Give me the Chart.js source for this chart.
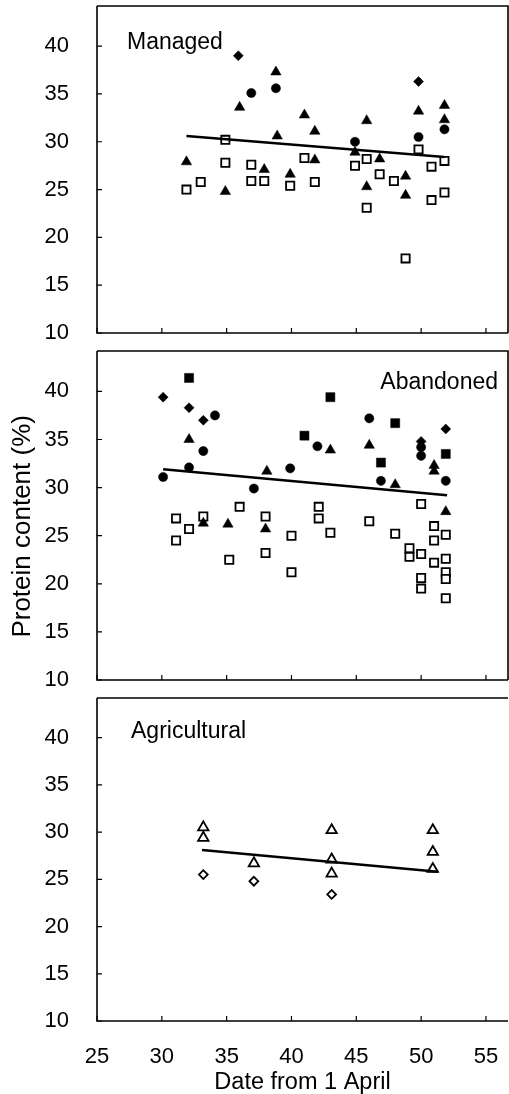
<!DOCTYPE html>
<html>
<head>
<meta charset="utf-8">
<script src="https://cdn.jsdelivr.net/npm/chart.js@4.4.1/dist/chart.umd.min.js"></script>
<style>
  html, body { margin: 0; padding: 0; background: #fff; overflow: hidden; }
  .panel { position: absolute; left: 0; width: 509px; }
</style>
</head>
<body>
<div class="panel" style="top:0;height:345px"><canvas id="managed"></canvas></div>
<div class="panel" style="top:345px;height:345px"><canvas id="abandoned"></canvas></div>
<div class="panel" style="top:690px;height:414px"><canvas id="agricultural"></canvas></div>
<script>
// Axis settings shared by the three panels
const xTicks = [25, 30, 35, 40, 45, 50, 55];
const yTicks = [10, 15, 20, 25, 30, 35, 40];

// Managed sites: [day, protein %]
const managedDiamond = [[35.9, 39.0], [49.8, 36.3]];
const managedCircle = [[36.9, 35.1], [38.8, 35.6], [44.9, 30.0], [49.8, 30.5], [51.8, 31.3]];
const managedTriangle = [
  [38.8, 37.3], [36.0, 33.6], [41.0, 32.8], [38.9, 30.6], [31.9, 27.9], [37.9, 27.1],
  [39.9, 26.6], [34.9, 24.8], [41.8, 31.1], [41.8, 28.1], [45.8, 32.2], [44.9, 28.9],
  [46.8, 28.2], [45.8, 25.3], [48.8, 26.4], [48.8, 24.4], [49.8, 33.2], [51.8, 33.8],
  [51.8, 32.3]
];
const managedSquare = [
  [34.9, 30.2], [34.9, 27.8], [36.9, 27.6], [31.9, 25.0], [33.0, 25.8], [36.9, 25.9],
  [37.9, 25.9], [39.9, 25.4], [41.0, 28.3], [41.8, 25.8], [44.9, 27.5], [45.8, 28.2],
  [46.8, 26.6], [45.8, 23.1], [47.9, 25.9], [48.8, 17.8], [49.8, 29.2], [50.8, 27.4],
  [50.8, 23.9], [51.8, 28.0], [51.8, 24.7]
];
const managedTrendX = [31.9, 51.8];
const managedTrendY = [30.6, 28.4];

// Abandoned sites
const abandonedFilledSquare = [[32.1, 41.4], [43.0, 39.4], [41.0, 35.4], [48.0, 36.7], [46.9, 32.6], [51.9, 33.5]];
const abandonedDiamond = [[30.1, 39.4], [32.1, 38.3], [33.2, 37.0], [51.9, 36.1], [50.0, 34.8]];
const abandonedCircle = [
  [34.1, 37.5], [33.2, 33.8], [32.1, 32.1], [30.1, 31.1], [39.9, 32.0], [37.1, 29.9],
  [42.0, 34.3], [46.0, 37.2], [46.9, 30.7], [50.0, 34.2], [50.0, 33.3], [51.9, 30.7]
];
const abandonedTriangle = [
  [32.1, 35.0], [38.1, 31.7], [35.1, 26.2], [38.0, 25.7], [33.2, 26.3], [43.0, 33.9],
  [46.0, 34.4], [48.0, 30.3], [51.0, 32.3], [51.0, 31.7], [51.9, 27.5]
];
const abandonedSquare = [
  [36.0, 28.0], [31.1, 26.8], [33.2, 27.0], [32.1, 25.7], [31.1, 24.5], [38.0, 27.0],
  [35.2, 22.5], [38.0, 23.2], [40.0, 25.0], [40.0, 21.2], [42.1, 28.0], [42.1, 26.8],
  [43.0, 25.3], [46.0, 26.5], [48.0, 25.2], [50.0, 28.3], [49.1, 23.7], [49.1, 22.8],
  [50.0, 23.1], [50.0, 20.6], [50.0, 19.5], [51.0, 26.0], [51.0, 24.5], [51.0, 22.2],
  [51.9, 25.1], [51.9, 22.6], [51.9, 21.2], [51.9, 20.5], [51.9, 18.5]
];
const abandonedTrendX = [30.1, 52.0];
const abandonedTrendY = [31.9, 29.2];

// Agricultural sites
const agriTriangle = [
  [33.2, 30.5], [33.2, 29.4], [37.1, 26.7], [43.1, 30.2], [43.1, 27.1], [43.1, 25.6],
  [50.9, 30.2], [50.9, 27.9], [50.9, 26.1]
];
const agriDiamond = [[33.2, 25.5], [37.1, 24.8], [43.1, 23.4]];
const agriTrendX = [33.1, 51.3];
const agriTrendY = [28.1, 25.8];

const FONT = "'Liberation Sans', Arial, sans-serif";

const toPoints = (pairs) => pairs.map(([x, y]) => ({ x, y }));
const trendPoints = (xs, ys) => xs.map((x, i) => ({ x, y: ys[i] }));

function marker(data, style, filled, radius) {
  return {
    type: 'scatter',
    data: toPoints(data),
    pointStyle: style,
    pointRadius: radius,
    pointHoverRadius: radius,
    backgroundColor: filled ? '#000' : '#fff',
    borderColor: '#000',
    borderWidth: filled ? 0.5 : 1.8
  };
}

function trend(xs, ys) {
  return {
    type: 'line',
    data: trendPoints(xs, ys),
    borderColor: '#000',
    borderWidth: 2.6,
    pointRadius: 0,
    fill: false
  };
}

// keep label overhang from pushing the plot area around
function noPadding(s) {
  s.paddingTop = 0;
  s.paddingBottom = 0;
  s.paddingLeft = 0;
  s.paddingRight = 0;
}

// Frame, inward tick marks and the panel name
const framePlugin = {
  id: 'frame',
  afterDatasetsDraw(chart, args, opts) {
    const { ctx, chartArea: a, scales: { x, y } } = chart;
    ctx.save();
    ctx.strokeStyle = '#000';
    ctx.lineWidth = 1.6;
    ctx.beginPath();
    ctx.moveTo(a.left, a.top);
    ctx.lineTo(a.left, a.bottom);
    ctx.lineTo(a.right, a.bottom);
    ctx.moveTo(a.left, a.top);
    ctx.lineTo(a.right, a.top);
    if (opts.rightBorder) {
      ctx.lineTo(a.right, a.bottom);
    }
    ctx.stroke();

    ctx.lineWidth = 1.2;
    ctx.beginPath();
    y.ticks.forEach(t => {
      const py = y.getPixelForValue(t.value);
      ctx.moveTo(a.left, py);
      ctx.lineTo(a.left + 5, py);
    });
    x.ticks.forEach(t => {
      const px = x.getPixelForValue(t.value);
      ctx.moveTo(px, a.bottom);
      ctx.lineTo(px, a.bottom - 5);
    });
    ctx.stroke();

    ctx.fillStyle = '#000';
    ctx.font = `23px ${FONT}`;
    ctx.textBaseline = 'middle';
    ctx.textAlign = opts.align;
    const tx = opts.align === 'right' ? a.right - opts.dx : a.left + opts.dx;
    ctx.fillText(opts.label, tx, a.top + opts.dy);
    ctx.restore();
  }
};

function makeChart(id, datasets, cfg) {
  return new Chart(document.getElementById(id), {
    data: { datasets },
    plugins: [framePlugin],
    options: {
      responsive: true,
      maintainAspectRatio: false,
      animation: false,
      events: [],
      layout: { autoPadding: false, padding: { top: cfg.top, right: 1, left: 0, bottom: 0 } },
      plugins: {
        legend: { display: false },
        tooltip: { enabled: false },
        frame: cfg.frame
      },
      scales: {
        x: {
          type: 'linear',
          min: 25,
          max: 56.7,
          grid: { display: false },
          border: { display: false },
          afterBuildTicks: (s) => { s.ticks = xTicks.map(v => ({ value: v })); },
          ticks: {
            display: cfg.xLabels,
            padding: 15,
            color: '#000',
            font: { family: FONT, size: 22 }
          },
          title: {
            display: cfg.xLabels,
            text: 'Date from 1 April',
            color: '#000',
            font: { family: FONT, size: 23.5 },
            padding: { top: 0, bottom: 7 }
          },
          afterFit: (s) => { s.height = cfg.xHeight; noPadding(s); }
        },
        y: {
          type: 'linear',
          min: 10,
          max: 44.2,
          grid: { display: false },
          border: { display: false },
          afterBuildTicks: (s) => { s.ticks = yTicks.map(v => ({ value: v })); },
          ticks: {
            padding: 20,
            color: '#000',
            font: { family: FONT, size: 22 }
          },
          title: {
            display: cfg.yTitle,
            // trailing spaces nudge the centred title a little lower, as in the original
            text: 'Protein content (%)   ',
            color: '#000',
            font: { family: FONT, size: 26 },
            padding: { top: 7, bottom: 0 }
          },
          afterFit: (s) => { s.width = 97; noPadding(s); }
        }
      }
    }
  });
}

makeChart('managed', [
  trend(managedTrendX, managedTrendY),
  marker(managedDiamond, 'rectRot', true, 5),
  marker(managedCircle, 'circle', true, 4.6),
  marker(managedTriangle, 'triangle', true, 6),
  marker(managedSquare, 'rect', false, 5.8)
], {
  top: 6, xHeight: 12, xLabels: false, yTitle: false,
  frame: { label: 'Managed', align: 'left', dx: 30, dy: 37, rightBorder: true }
});

makeChart('abandoned', [
  trend(abandonedTrendX, abandonedTrendY),
  marker(abandonedFilledSquare, 'rect', true, 6.4),
  marker(abandonedDiamond, 'rectRot', true, 5),
  marker(abandonedCircle, 'circle', true, 4.6),
  marker(abandonedTriangle, 'triangle', true, 6),
  marker(abandonedSquare, 'rect', false, 5.8)
], {
  top: 6, xHeight: 10, xLabels: false, yTitle: true,
  frame: { label: 'Abandoned', align: 'right', dx: 10, dy: 32, rightBorder: true }
});

makeChart('agricultural', [
  trend(agriTrendX, agriTrendY),
  marker(agriDiamond, 'rectRot', false, 4.4),
  marker(agriTriangle, 'triangle', false, 6)
], {
  top: 8, xHeight: 83, xLabels: true, yTitle: false,
  frame: { label: 'Agricultural', align: 'left', dx: 34, dy: 34, rightBorder: false }
});
</script>
</body>
</html>
